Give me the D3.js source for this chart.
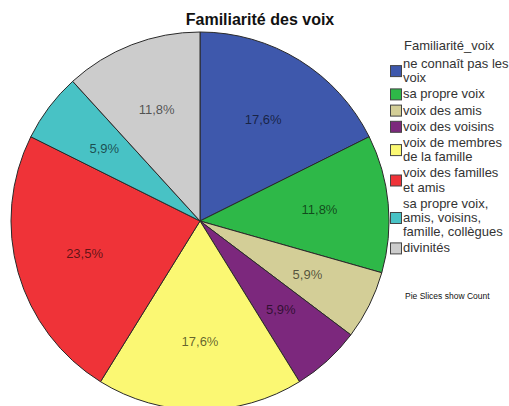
<!DOCTYPE html>
<html><head><meta charset="utf-8">
<script src="https://cdn.jsdelivr.net/npm/d3@7"></script>
<style>body{margin:0;background:#fff}svg{display:block}</style>
</head><body>
<svg id="c" width="509" height="406"></svg>
<script>
const categories = [
  ["ne connaît pas les","voix"],
  ["sa propre voix"],
  ["voix des amis"],
  ["voix des voisins"],
  ["voix de membres","de la famille"],
  ["voix des familles","et amis"],
  ["sa propre voix,","amis, voisins,","famille, collègues"],
  ["divinités"]
];
const counts = [3, 2, 1, 1, 3, 4, 1, 2];
const percentLabels = ["17,6%","11,8%","5,9%","5,9%","17,6%","23,5%","5,9%","11,8%"];
const colors = ["#3E58AC","#2EB848","#D3CE97","#7C287D","#FBF873","#EF3338","#48C2C5","#CCCCCC"];
const title = "Familiarité des voix";
const legendTitle = "Familiarité_voix";
const footnote = "Pie Slices show Count";

const svg = d3.select("#c");
const font = "Liberation Sans, Arial, sans-serif";
const cx = 200, cy = 221, r = 189;

const pie = d3.pie().sort(null).value(d => d);
const arcs = pie(counts);
const arc = d3.arc().innerRadius(0).outerRadius(r);
const labelArc = d3.arc().innerRadius(120).outerRadius(120);

const g = svg.append("g").attr("transform", `translate(${cx},${cy})`);
g.selectAll("path").data(arcs).enter().append("path")
  .attr("d", arc)
  .attr("fill", (d,i) => colors[i])
  .attr("stroke", "#2a2a2a")
  .attr("stroke-width", 1);

g.selectAll("text").data(arcs).enter().append("text")
  .attr("transform", d => `translate(${labelArc.centroid(d)})`)
  .attr("text-anchor", "middle")
  .attr("dy", "0.35em")
  .attr("font-family", font)
  .attr("font-size", 13)
  .attr("fill", "#000")
  .attr("fill-opacity", 0.62)
  .text((d,i) => percentLabels[i]);

svg.append("text")
  .attr("x", 260).attr("y", 25)
  .attr("text-anchor", "middle")
  .attr("font-family", font)
  .attr("font-weight", "bold")
  .attr("font-size", 16)
  .attr("fill", "#111")
  .text(title);

// legend
svg.append("text")
  .attr("x", 404).attr("y", 50)
  .attr("font-family", font).attr("font-size", 13).attr("fill", "#333")
  .text(legendTitle);

const lineH = 14.2, gap = 2;
let y = 68;
categories.forEach((lines, i) => {
  const lg = svg.append("g");
  lines.forEach((t, j) => {
    lg.append("text")
      .attr("x", 403).attr("y", y + j * lineH)
      .attr("font-family", font).attr("font-size", 13).attr("fill", "#333")
      .text(t);
  });
  const mid = y + (lines.length - 1) * lineH / 2 - 4;
  lg.append("rect")
    .attr("x", 390.5).attr("y", mid - 5.5)
    .attr("width", 11).attr("height", 11)
    .attr("fill", colors[i]).attr("stroke", "#444").attr("stroke-width", 1);
  y += lines.length * lineH + gap;
});

svg.append("text")
  .attr("x", 405).attr("y", 299)
  .attr("font-family", font).attr("font-size", 8.5).attr("fill", "#111")
  .text(footnote);
</script>
</body></html>
